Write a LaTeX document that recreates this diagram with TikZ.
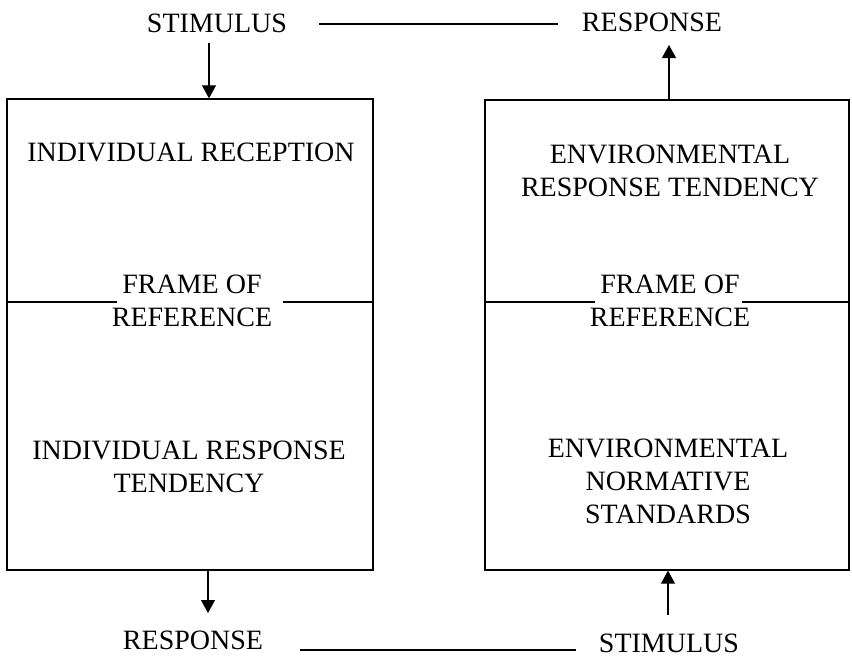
\documentclass[tikz,border=0pt]{standalone}
\usepackage{fontspec}
\setmainfont{Liberation Serif}
\usetikzlibrary{arrows.meta}
\begin{document}
\begin{tikzpicture}[x=1pt,y=-1pt,
  lbl/.style={font=\fontsize{28}{33}\selectfont, align=center, inner sep=0pt},
  box/.style={draw, line width=1.3pt, inner sep=0pt},
  arr/.style={-{Triangle[length=13pt,width=14pt]}, line width=1.2pt},
  rule/.style={line width=1.2pt}]
\useasboundingbox (0,0) rectangle (852,659);
% boxes
\node[box, minimum width=366pt, minimum height=471pt] (LB) at (190,334.5) {};
\node[box, minimum width=364pt, minimum height=470pt] (RB) at (667,335) {};
% top labels
\node[lbl] (stimT) at (217,23.5) {STIMULUS};
\node[lbl] (respT) at (652,22) {RESPONSE};
\draw[rule] ([xshift=32pt]stimT.east |- 0,24) -- ([xshift=-24pt]respT.west |- 0,24);
% bottom labels
\node[lbl] (respB) at (193,640) {RESPONSE};
\node[lbl] (stimB) at (669,643) {STIMULUS};
\draw[rule] ([xshift=37pt]respB.east |- 0,650) -- ([xshift=-23pt]stimB.west |- 0,650);
% arrows
\coordinate (a1s) at (209,43);
\draw[arr] (a1s) -- (a1s |- LB.north);
\coordinate (a2e) at (669,45);
\draw[arr] (a2e |- RB.north) -- (a2e);
\coordinate (a3e) at (208,613);
\draw[arr] (a3e |- LB.south) -- (a3e);
\coordinate (a4s) at (668,615);
\draw[arr] (a4s) -- (a4s |- RB.south);
% left box contents
\node[lbl] (indrec) at (191,152) {INDIVIDUAL RECEPTION};
\node[lbl] (forL) at (192,300.5) {FRAME OF\\REFERENCE};
\draw[rule] (LB.west |- 0,302) -- (117,302);
\draw[rule] (283,302) -- (LB.east |- 0,302);
\node[lbl] (indresp) at (189,466.5) {INDIVIDUAL RESPONSE\\TENDENCY};
% right box contents
\node[lbl] (envresp) at (670,170.5) {ENVIRONMENTAL\\RESPONSE TENDENCY};
\node[lbl] (forR) at (670,300.5) {FRAME OF\\REFERENCE};
\draw[rule] (RB.west |- 0,302) -- (595,302);
\draw[rule] (742,302) -- (RB.east |- 0,302);
\node[lbl] (envnorm) at (668,481) {ENVIRONMENTAL\\NORMATIVE\\STANDARDS};
\end{tikzpicture}
\end{document}
